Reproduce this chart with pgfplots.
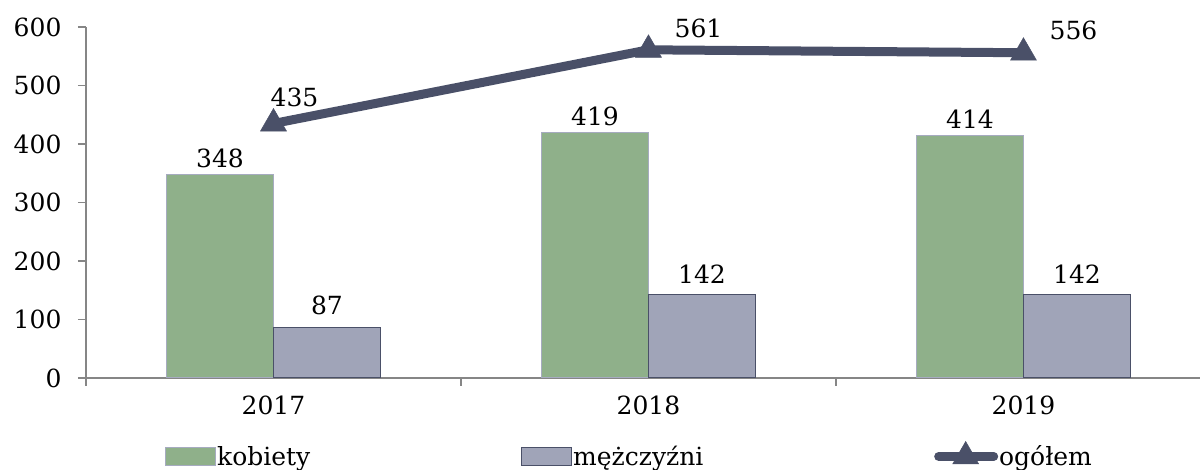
\documentclass[border=0pt]{standalone}
\usepackage{pgfplots}
\pgfplotsset{compat=1.18}
\usepackage{fontspec}
\setmainfont{DejaVu Serif}

\definecolor{kob}{RGB}{143,176,138}
\definecolor{kobedge}{RGB}{166,171,192}
\definecolor{mez}{RGB}{160,164,184}
\definecolor{dark}{RGB}{74,80,104}
\definecolor{axgray}{RGB}{134,134,134}

\pgfplotsset{
    boxlegend/.style={legend image code/.code={\draw[##1] (0pt,-9pt) rectangle (50pt,9pt);}},
    linelegend/.style={legend image code/.code={
        \draw[##1, mark=none, line cap=round] (0pt,0pt) -- (55pt,0pt);
        \draw[##1, line width=0.5pt] plot coordinates {(27pt,0pt)};}},
}

\begin{document}
\begin{tikzpicture}[font=\fontsize{25}{30}\selectfont]
\begin{axis}[
    at={(86pt,92pt)}, anchor=south west,
    scale only axis,
    width=1114pt, height=351pt,
    xmin=-0.5, xmax=2.4707,
    ymin=0, ymax=600,
    ytick={0,100,...,600},
    xtick={-0.5,0.5,1.5},
    xticklabels={},
    extra x ticks={0,1,2},
    extra x tick labels={2017,2018,2019},
    extra x tick style={major tick length=0pt, tick label style={yshift=-14pt}},
    axis x line*=bottom, axis y line*=left,
    axis line style={axgray, line width=1.2pt},
    tick style={axgray, line width=1.2pt},
    tick align=outside,
    major tick length=8pt,
    y tick label style={xshift=-13pt},
    /pgf/number format/assume math mode=true,
    legend columns=3,
    legend style={at={(axis description cs:0.0709,-0.219)}, anchor=west,
        draw=none, inner sep=0pt,
        nodes={inner sep=1pt, anchor=west},
        /tikz/column 2/.style={text width=303pt},
        /tikz/column 4/.style={text width=360pt}},
]
\addplot[ybar, bar width=107pt, bar shift=-53.5pt, fill=kob, draw=kobedge, line width=1pt,
    nodes near coords, nodes near coords style={black, anchor=south, xshift=-53.5pt, yshift=3pt},
    boxlegend]
    coordinates {(0,348) (1,419) (2,414)};
\addlegendentry{kobiety}
\addplot[ybar, bar width=107pt, bar shift=53.5pt, fill=mez, draw=dark, line width=1pt,
    nodes near coords, nodes near coords style={black, anchor=south, xshift=53.5pt, yshift=8pt},
    boxlegend]
    coordinates {(0,87) (1,142) (2,142)};
\addlegendentry{mężczyźni}
\addplot[sharp plot, color=dark, line width=9pt, mark=triangle*, mark size=15pt,
    mark options={line width=0.5pt, fill=dark},
    nodes near coords,
    visualization depends on={\thisrow{dx}\as\dx},
    visualization depends on={\thisrow{dy}\as\dy},
    nodes near coords style={black, anchor=center, xshift=\dx pt, yshift=\dy pt},
    linelegend]
    table {
x y dx dy
0 435 21 26
1 561 50 21
2 556 50 22
};
\addlegendentry{ogółem}
\end{axis}
\pgfresetboundingbox
\path (0,0) rectangle (1200pt,470pt);
\end{tikzpicture}
\end{document}
